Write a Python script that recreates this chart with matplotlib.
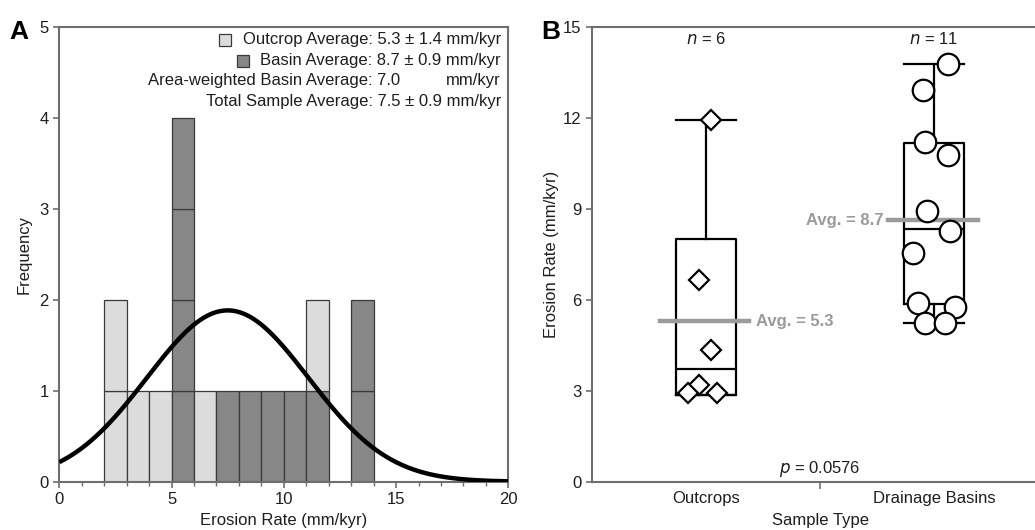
import numpy as np
import matplotlib
matplotlib.use("Agg")
import matplotlib.pyplot as plt

plt.rcParams['font.family'] = ['Liberation Sans', 'DejaVu Sans']

# ---------------- Panel A data ----------------
bin_left = [2, 3, 4, 5, 6, 7, 8, 9, 10, 11, 13]
# stacked order from bottom: basin segments first, then outcrop
basin_counts = [0, 0, 0, 4, 0, 1, 1, 1, 1, 1, 2]
outcrop_counts = [2, 1, 1, 0, 1, 0, 0, 0, 0, 1, 0]
total_mean = 7.5
total_sd = 3.6
n_total = 17

legend_lines = ["Outcrop Average: 5.3 \u00b1 1.4 mm/kyr",
                "Basin Average: 8.7 \u00b1 0.9 mm/kyr",
                "Area-weighted Basin Average: 7.0",
                "Total Sample Average: 7.5 \u00b1 0.9 mm/kyr"]

# ---------------- Panel B data ----------------
categories = ["Outcrops", "Drainage Basins"]
outcrop_vals = [11.93, 6.65, 4.35, 3.19, 2.93, 2.93]
outcrop_jitter = [0.02, -0.03, 0.02, -0.03, -0.08, 0.05]
basin_vals = [13.79, 12.93, 11.19, 10.78, 8.94, 8.27, 7.54, 5.9, 5.77, 5.22, 5.22]
basin_jitter = [0.06, -0.05, -0.04, 0.06, -0.03, 0.07, -0.09, -0.07, 0.09, -0.04, 0.05]
# box stats: q1, median, q3, whisker low, whisker high
outcrop_box = [2.86, 3.72, 8.0, 2.86, 11.93]
basin_box = [5.85, 8.33, 11.17, 5.22, 13.79]
averages = [5.3, 8.7]
n_labels = ["6", "11"]
p_value = "0.0576"

LIGHT = "#dcdcdc"
DARK = "#878787"
EDGE = "#3a3a3a"
SPINE = "#6e6e6e"
TXT = "#1e1e1e"
AVG = "#9b9b9b"

W, H = 1035, 530
fig = plt.figure(figsize=(W / 100, H / 100), dpi=100)

axA = fig.add_axes([59.3 / W, 48.3 / H, 449 / W, 454.7 / H])
axB = fig.add_axes([592 / W, 48.3 / H, 456 / W, 454.7 / H])

for ax in (axA, axB):
    for s in ax.spines.values():
        s.set_color(SPINE)
        s.set_linewidth(1.5)
    ax.tick_params(colors=SPINE, labelcolor=TXT, labelsize=12, width=1.2, length=4,
                   direction='out')

# ---------- Panel A ----------
for left, nb, no in zip(bin_left, basin_counts, outcrop_counts):
    level = 0
    for _ in range(nb):
        axA.bar(left, 1, width=1, bottom=level, align='edge', color=DARK,
                edgecolor=EDGE, linewidth=0.9, zorder=2)
        level += 1
    for _ in range(no):
        axA.bar(left, 1, width=1, bottom=level, align='edge', color=LIGHT,
                edgecolor=EDGE, linewidth=0.9, zorder=2)
        level += 1

xs = np.linspace(0, 20, 400)
ys = n_total * 1.0 / (total_sd * np.sqrt(2 * np.pi)) * np.exp(-0.5 * ((xs - total_mean) / total_sd) ** 2)
axA.plot(xs, ys, color='black', lw=3.2, zorder=3, solid_capstyle='butt')

axA.set_xlim(0, 20)
axA.set_ylim(0, 5)
axA.set_xticks([0, 5, 10, 15, 20])
axA.set_xticks(np.arange(0, 21, 1), minor=True)
axA.tick_params(axis='x', which='minor', colors=SPINE, length=3, width=1)
axA.set_yticks([0, 1, 2, 3, 4, 5])
axA.set_xlabel("Erosion Rate (mm/kyr)", fontsize=12, color=TXT, labelpad=4)
axA.set_ylabel("Frequency", fontsize=12, color=TXT, labelpad=6)

leg_y = [4.86, 4.63, 4.41, 4.18]
axA.text(19.67, leg_y[0], legend_lines[0], ha='right', va='center', fontsize=12, color=TXT)
axA.text(19.67, leg_y[1], legend_lines[1], ha='right', va='center', fontsize=12, color=TXT)
axA.text(15.2, leg_y[2], legend_lines[2], ha='right', va='center', fontsize=12, color=TXT)
axA.text(19.67, leg_y[2], "mm/kyr", ha='right', va='center', fontsize=12, color=TXT)
axA.text(19.67, leg_y[3], legend_lines[3], ha='right', va='center', fontsize=12, color=TXT)
axA.plot([7.38], [leg_y[0]], marker='s', ms=9, mfc=LIGHT, mec=EDGE, mew=0.9)
axA.plot([8.18], [leg_y[1]], marker='s', ms=9, mfc=DARK, mec=EDGE, mew=0.9)

# ---------- Panel B ----------
positions = [0.5, 1.5]
stats = []
for lab, b in zip(categories, [outcrop_box, basin_box]):
    stats.append(dict(label=lab, q1=b[0], med=b[1], q3=b[2], whislo=b[3], whishi=b[4], fliers=[]))
bw = 0.263
axB.bxp(stats, positions=positions, widths=bw, capwidths=bw, showfliers=False,
        boxprops=dict(color='black', lw=1.6), medianprops=dict(color='black', lw=1.6),
        whiskerprops=dict(color='black', lw=1.6), capprops=dict(color='black', lw=1.6),
        manage_ticks=False, zorder=2)

axB.plot(np.array(positions[0]) + np.array(outcrop_jitter), outcrop_vals, ls='none', marker='D',
         ms=10, mfc='white', mec='black', mew=1.6, zorder=4)
axB.plot(np.array(positions[1]) + np.array(basin_jitter), basin_vals, ls='none', marker='o',
         ms=15.5, mfc='white', mec='black', mew=1.6, zorder=4)

# average lines
axB.plot([positions[0] - 0.2, positions[0] + 0.19], [averages[0]] * 2, color=AVG, lw=3.2, zorder=3)
axB.text(positions[0] + 0.22, averages[0], f"Avg. = {averages[0]}", ha='left', va='center',
         fontsize=12, weight='bold', color=AVG)
axB.plot([positions[1] - 0.2, positions[1] + 0.195], [averages[1] - 0.07] * 2, color=AVG, lw=3.2, zorder=3)
axB.text(positions[1] - 0.22, averages[1] - 0.07, f"Avg. = {averages[1]}", ha='right', va='center',
         fontsize=12, weight='bold', color=AVG)

for pos, n in zip(positions, n_labels):
    axB.text(pos, 14.6, f"$n$ = {n}", ha='center', va='center', fontsize=12, color=TXT)
axB.text(1.0, 0.1, f"$p$ = {p_value}", ha='center', va='bottom', fontsize=12, color=TXT)

axB.set_xlim(0, 2)
axB.set_ylim(0, 15)
axB.set_yticks([0, 3, 6, 9, 12, 15])
axB.set_xticks(positions)
axB.set_xticklabels(categories)
axB.tick_params(axis='x', which='major', length=0, pad=7)
axB.set_xticks([1], minor=True)
axB.tick_params(axis='x', which='minor', length=5, width=1.2, colors=SPINE)
axB.spines['right'].set_visible(False)
axB.set_xlabel("Sample Type", fontsize=12, color=TXT, labelpad=5)
axB.set_ylabel("Erosion Rate (mm/kyr)", fontsize=12, color=TXT, labelpad=3)

fig.text(9 / W, 1 - 39 / H, "A", fontsize=19, weight='heavy', va='baseline', ha='left')
fig.text(541 / W, 1 - 39 / H, "B", fontsize=19, weight='heavy', va='baseline', ha='left')

fig.savefig("out.png", dpi=100)
